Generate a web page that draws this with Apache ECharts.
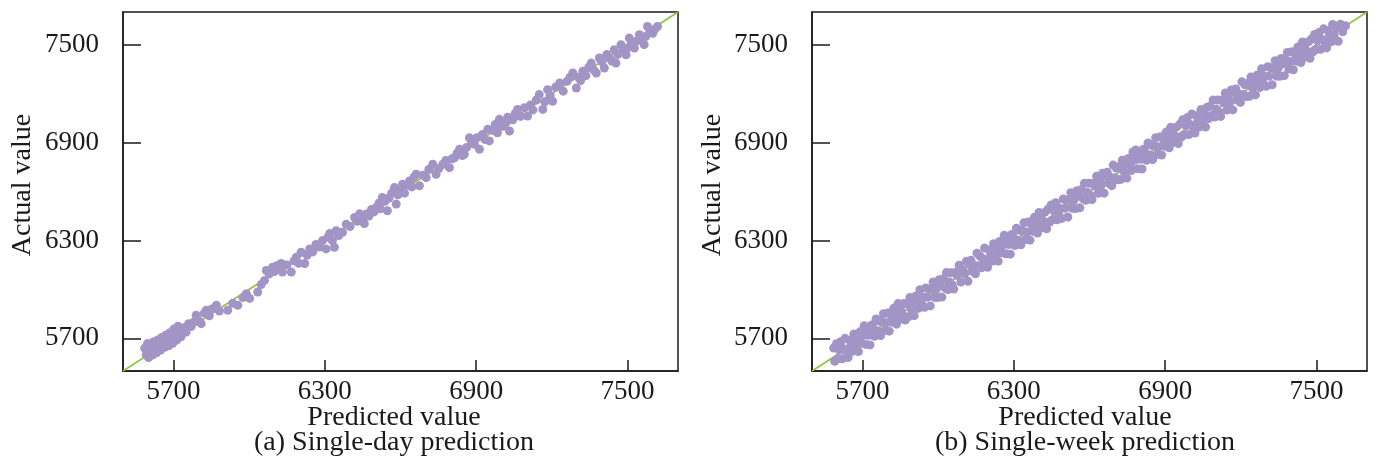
<!DOCTYPE html>
<html><head><meta charset="utf-8">
<script src="https://cdn.jsdelivr.net/npm/echarts@6/dist/echarts.min.js"></script>
<style>html,body{margin:0;padding:0;background:#fff}#c{width:1375px;height:461px}</style>
</head><body><div id="c"></div>
<script>
const tickValues = [5700, 6300, 6900, 7500];
const axisRange = [5500, 7700];
const idealLine = [[5500, 5500], [7700, 7700]];
const xTitle = 'Predicted value';
const yTitle = 'Actual value';
const captions = ['(a) Single-day prediction', '(b) Single-week prediction'];

const dayPoints = [
[5586,5640],[5592,5600],[5597,5668],[5601,5582],[5606,5625],[5612,5655],[5617,5598],[5622,5680],[5628,5640],[5633,5612],
[5638,5690],[5644,5662],[5649,5628],[5654,5705],[5660,5675],[5665,5645],[5670,5720],[5676,5690],[5681,5655],[5686,5735],
[5692,5700],[5697,5670],[5702,5758],[5708,5718],[5713,5690],[5718,5775],[5724,5735],[5730,5710],
[5742,5765],[5750,5738],[5760,5790],[5770,5772],[5781,5800],[5790,5842],[5798,5812],[5810,5790],[5822,5855],[5830,5872],
[5842,5838],[5852,5880],[5870,5903],[5882,5868],
[5915,5872],[5935,5915],[5955,5903],[5975,5950],[5989,5974],[6002,5945],
[6034,5984],[6048,6030],[6061,6055],[6068,6116],[6080,6095],[6093,6136],[6100,6110],[6110,6145],[6120,6128],[6127,6159],
[6132,6106],[6150,6150],[6167,6106],[6178,6175],[6187,6197],[6196,6160],[6206,6228],[6220,6159],[6230,6210],[6240,6248],
[6252,6230],[6265,6275],[6278,6260],[6291,6299],[6305,6248],[6312,6320],[6319,6342],[6330,6300],[6338,6258],[6345,6360],
[6355,6330],[6370,6350],[6385,6400],[6400,6385],[6418,6441],[6428,6418],[6438,6463],[6448,6440],[6457,6403],[6464,6462],
[6475,6450],[6485,6490],[6495,6475],[6504,6502],[6515,6530],[6520,6495],[6528,6563],[6538,6540],[6548,6482],[6555,6560],
[6565,6590],[6576,6624],[6583,6523],[6590,6580],[6600,6610],[6608,6645],[6616,6590],[6626,6640],[6636,6665],[6645,6628],
[6654,6690],[6662,6706],[6675,6635],[6688,6700],[6702,6685],[6712,6735],[6728,6767],[6741,6706],[6752,6740],[6768,6767],
[6780,6790],[6794,6746],[6804,6800],[6814,6807],[6824,6835],[6834,6859],[6845,6820],[6853,6828],[6862,6870],[6873,6929],
[6882,6898],[6893,6889],[6903,6930],[6913,6859],[6925,6950],[6935,6918],[6946,6981],[6952,6910],[6965,6975],[6975,7010],
[6984,6960],[6992,7042],[7005,7000],[7018,7021],[7025,7055],[7032,6971],[7045,7040],[7055,7080],[7064,7103],[7075,7060],
[7091,7113],[7104,7062],[7115,7130],[7125,7100],[7138,7160],[7150,7194],[7164,7103],[7172,7150],[7183,7224],[7193,7190],
[7203,7153],[7215,7240],[7231,7265],[7245,7215],[7260,7275],[7272,7300],[7283,7326],[7297,7234],[7305,7300],[7314,7280],
[7323,7337],[7335,7310],[7346,7360],[7356,7387],[7366,7345],[7376,7326],[7388,7418],[7398,7395],[7408,7357],[7418,7440],
[7428,7418],[7438,7400],[7447,7469],[7454,7387],[7462,7440],[7474,7500],[7482,7465],[7494,7438],[7500,7480],[7507,7540],
[7515,7505],[7527,7479],[7535,7520],[7547,7561],[7555,7530],[7566,7500],[7572,7550],[7579,7611],[7588,7575],[7600,7570],
[7608,7595],[7619,7611]
];

const weekPoints = [
[5586,5641],[5590,5560],[5597,5667],[5603,5575],[5609,5629],[5614,5679],[5620,5575],[5626,5636],[5631,5700],[5638,5618],
[5643,5583],[5649,5689],[5655,5660],[5660,5620],[5666,5726],[5671,5661],[5678,5708],[5684,5619],[5690,5740],[5695,5670],
[5701,5716],[5707,5777],[5713,5663],[5719,5754],[5724,5719],[5730,5660],[5737,5782],[5742,5762],[5748,5713],[5754,5819],
[5760,5745],[5766,5806],[5772,5717],[5777,5802],[5783,5851],[5789,5749],[5795,5795],[5801,5856],[5806,5744],[5812,5842],
[5818,5798],[5824,5884],[5830,5840],[5835,5787],[5841,5913],[5847,5817],[5853,5868],[5858,5850],[5864,5914],[5870,5812],
[5876,5911],[5882,5832],[5888,5950],[5893,5881],[5899,5924],[5905,5839],[5911,5959],[5917,5922],[5922,5884],[5928,5998],
[5934,5912],[5940,5952],[5946,5891],[5951,6009],[5957,5952],[5963,6003],[5969,5899],[5975,6003],[5980,6046],[5986,5951],
[5992,6000],[5998,5950],[6004,6059],[6009,6027],[6015,5953],[6021,6066],[6027,6009],[6033,6103],[6039,5999],[6044,6046],
[6050,6102],[6056,6028],[6062,6002],[6068,6103],[6075,6087],[6083,6148],[6090,6045],[6098,6120],[6105,6095],[6112,6172],
[6118,6050],[6124,6154],[6130,6178],[6136,6111],[6142,6147],[6148,6096],[6154,6222],[6160,6145],[6166,6204],[6172,6132],
[6178,6188],[6184,6253],[6190,6170],[6196,6136],[6202,6242],[6208,6213],[6214,6174],[6220,6280],[6226,6216],[6232,6262],
[6238,6173],[6244,6294],[6250,6225],[6256,6271],[6262,6332],[6268,6218],[6274,6309],[6280,6275],[6286,6216],[6292,6337],
[6298,6318],[6304,6269],[6310,6375],[6316,6301],[6322,6362],[6328,6273],[6334,6359],[6340,6408],[6346,6306],[6352,6352],
[6358,6413],[6364,6302],[6370,6400],[6376,6356],[6382,6442],[6388,6398],[6394,6346],[6400,6472],[6406,6376],[6412,6427],
[6418,6410],[6424,6474],[6430,6372],[6436,6491],[6442,6412],[6448,6518],[6454,6426],[6460,6480],[6466,6531],[6472,6427],
[6478,6456],[6484,6496],[6490,6435],[6496,6554],[6502,6497],[6508,6548],[6514,6444],[6520,6548],[6526,6592],[6532,6497],
[6538,6546],[6544,6496],[6550,6605],[6556,6574],[6562,6500],[6568,6613],[6574,6556],[6580,6650],[6586,6546],[6592,6594],
[6598,6650],[6604,6576],[6610,6550],[6616,6651],[6622,6634],[6628,6693],[6634,6589],[6640,6662],[6646,6636],[6652,6712],
[6658,6590],[6664,6694],[6670,6718],[6676,6651],[6682,6687],[6688,6636],[6694,6762],[6700,6685],[6706,6744],[6712,6672],
[6718,6753],[6724,6674],[6730,6792],[6736,6724],[6742,6767],[6748,6682],[6754,6802],[6760,6765],[6766,6728],[6772,6842],
[6778,6793],[6784,6854],[6790,6740],[6796,6831],[6802,6797],[6808,6738],[6814,6859],[6820,6840],[6826,6791],[6832,6897],
[6838,6823],[6844,6884],[6850,6795],[6856,6881],[6862,6930],[6868,6828],[6874,6874],[6880,6935],[6886,6824],[6892,6922],
[6898,6878],[6904,6964],[6910,6920],[6916,6868],[6922,6994],[6928,6898],[6934,6949],[6940,6932],[6946,6996],[6952,6894],
[6958,7013],[6964,6934],[6970,7040],[6976,6948],[6982,7002],[6988,7053],[6994,6949],[7000,7010],[7006,7075],[7012,6992],
[7018,6958],[7024,7064],[7030,7035],[7036,6996],[7042,7102],[7048,7038],[7054,7084],[7060,6995],[7066,7116],[7072,7047],
[7078,7123],[7084,7066],[7090,7160],[7096,7056],[7102,7104],[7108,7160],[7114,7086],[7120,7060],[7126,7161],[7132,7144],
[7138,7203],[7144,7099],[7150,7172],[7156,7146],[7162,7222],[7168,7100],[7174,7204],[7180,7228],[7186,7161],[7192,7197],
[7198,7146],[7204,7272],[7210,7195],[7216,7254],[7222,7182],[7228,7263],[7234,7184],[7240,7302],[7246,7234],[7252,7277],
[7258,7192],[7264,7312],[7270,7275],[7276,7238],[7282,7352],[7288,7266],[7294,7306],[7300,7245],[7306,7364],[7312,7307],
[7318,7358],[7324,7254],[7330,7358],[7336,7402],[7342,7307],[7348,7356],[7354,7306],[7360,7415],[7366,7384],[7372,7310],
[7378,7403],[7384,7452],[7390,7350],[7396,7396],[7402,7457],[7408,7346],[7414,7444],[7420,7400],[7426,7486],[7432,7442],
[7438,7390],[7444,7516],[7450,7420],[7456,7471],[7462,7454],[7468,7518],[7474,7416],[7480,7535],[7486,7456],[7492,7562],
[7498,7470],[7504,7524],[7510,7575],[7516,7471],[7522,7532],[7528,7597],[7534,7514],[7540,7480],[7546,7586],[7552,7557],
[7558,7518],[7564,7624],[7570,7560],[7578,7608],[7586,7521],[7595,7625],[7604,7579],[7615,7615]
];

const FONT = "'Liberation Serif','Times New Roman',serif";
const INK = '#1a1a1a';
const DOT = '#a394c6';
const LINE = '#8cc43f';

const grids = [
  {left: 123, top: 12, width: 555, height: 359},
  {left: 812, top: 12, width: 555, height: 359}
];

const plain = v => String(v);

function xAx(i) {
  return {
    type: 'value', gridIndex: i, min: axisRange[0], max: axisRange[1],
    axisLine: {show: true, lineStyle: {color: INK, width: 1.5}},
    axisTick: {show: true, inside: true, length: 11, customValues: tickValues, lineStyle: {color: INK, width: 1.5}},
    axisLabel: {customValues: tickValues, formatter: plain, fontFamily: FONT, fontSize: 27, color: INK, margin: 7},
    splitLine: {show: false}
  };
}
function yAx(i) {
  return {
    type: 'value', gridIndex: i, min: axisRange[0], max: axisRange[1],
    axisLine: {show: true, lineStyle: {color: INK, width: 1.5}},
    axisTick: {show: true, inside: true, length: 18, customValues: tickValues, lineStyle: {color: INK, width: 1.5}},
    axisLabel: {customValues: tickValues, formatter: plain, fontFamily: FONT, fontSize: 27, color: INK, margin: 24},
    splitLine: {show: false}
  };
}

function textEl(str, x, y, rot) {
  return {
    type: 'text', x: x, y: y, rotation: rot || 0,
    style: {text: str, font: "28px " + FONT, fill: INK, textAlign: 'center', textVerticalAlign: 'middle'}
  };
}

const chart = echarts.init(document.getElementById('c'), null, {renderer: 'canvas'});
chart.setOption({
  backgroundColor: '#ffffff',
  animation: false,
  grid: grids.map(g => Object.assign({show: true, borderColor: INK, borderWidth: 1.5, backgroundColor: 'transparent'}, g)),
  xAxis: [xAx(0), xAx(1)],
  yAxis: [yAx(0), yAx(1)],
  series: [
    {type: 'line', xAxisIndex: 0, yAxisIndex: 0, data: idealLine, showSymbol: false, lineStyle: {color: LINE, width: 1.5}, z: 1},
    {type: 'scatter', xAxisIndex: 0, yAxisIndex: 0, data: dayPoints, symbolSize: 9, itemStyle: {color: DOT, opacity: 1}, z: 2},
    {type: 'line', xAxisIndex: 1, yAxisIndex: 1, data: idealLine, showSymbol: false, lineStyle: {color: LINE, width: 1.5}, z: 1},
    {type: 'scatter', xAxisIndex: 1, yAxisIndex: 1, data: weekPoints, symbolSize: 9, itemStyle: {color: DOT, opacity: 1}, z: 2}
  ],
  graphic: [
    textEl(xTitle, 394, 418),
    textEl(captions[0], 394, 443),
    textEl(xTitle, 1085, 418),
    textEl(captions[1], 1085, 443),
    textEl(yTitle, 23, 185, Math.PI / 2),
    textEl(yTitle, 713, 185, Math.PI / 2)
  ]
});
</script>
</body></html>
